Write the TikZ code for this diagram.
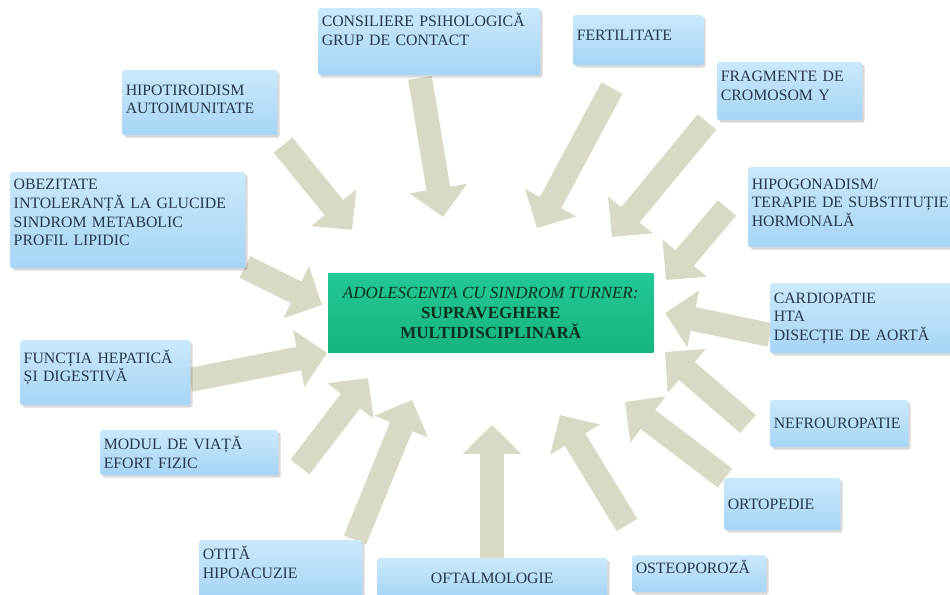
\documentclass[tikz,border=0pt]{standalone}
\usepackage{fontspec}
\setmainfont{Liberation Serif}
\usepackage{tikz}
\usetikzlibrary{arrows.meta,shadows}
\pgfdeclarelayer{bg}
\pgfsetlayers{bg,main}
\definecolor{boxtop}{RGB}{202,233,252}
\definecolor{boxbot}{RGB}{166,213,246}
\definecolor{boxtext}{RGB}{40,56,70}
\definecolor{turnertop}{RGB}{34,200,150}
\definecolor{turnerbot}{RGB}{22,180,128}
\definecolor{turnertext}{RGB}{10,48,30}
\definecolor{khaki}{RGB}{217,217,197}

\begin{document}
\begin{tikzpicture}[x = 0.03cm, y = -0.03cm,
  topic/.style = {anchor = north west, align = left, inner xsep = 3pt, inner ysep = 0pt,
    rounded corners = 1.5pt, top color = boxtop, bottom color = boxbot, text = boxtext,
    font = \fontsize{13.5}{16}\selectfont,
    drop shadow = {shadow xshift = 2pt, shadow yshift = -2pt, opacity = .3}},
  push/.style = {line width = 0.72cm, khaki, -{Triangle[length = 0pt 1.2, width = 0pt 2.35]}}]
\useasboundingbox (0,0) rectangle (950,595);

% centre
\node[anchor = north west, minimum width = 9.75cm, minimum height = 2.37cm, align = center,
  top color = turnertop, bottom color = turnerbot, text = turnertext,
  font = \fontsize{14.5}{17}\selectfont] (turner) at (328,273)
  {\textit{ADOLESCENTA CU SINDROM TURNER:}\\\textbf{SUPRAVEGHERE}\\\textbf{MULTIDISCIPLINARĂ}};

% boxes round it
\node[topic, text width = 6.45cm, minimum height = 2.01cm, text depth = 37pt] (cons) at (318,8) {CONSILIERE PSIHOLOGICĂ\\GRUP DE CONTACT};
\node[topic, text width = 3.69cm, minimum height = 1.5cm, text depth = 8pt] (fert) at (573,15) {FERTILITATE};
\node[topic, text width = 4.14cm, minimum height = 1.74cm, text depth = 25pt] (frag) at (717,62) {FRAGMENTE DE\\CROMOSOM Y};
\node[topic, text width = 4.44cm, minimum height = 1.95cm, text depth = 22pt] (hipot) at (122,70) {HIPOTIROIDISM\\AUTOIMUNITATE};
\node[topic, text width = 6.84cm, minimum height = 2.88cm, text depth = 61pt] (obez) at (10,172) {OBEZITATE\\INTOLERANȚĂ LA GLUCIDE\\SINDROM METABOLIC\\PROFIL LIPIDIC};
\node[topic, text width = 6.09cm, minimum height = 2.4cm, text depth = 40pt] (hipog) at (748,167) {HIPOGONADISM/\\TERAPIE DE SUBSTITUȚIE\\HORMONALĂ};
\node[topic, text width = 5.49cm, minimum height = 2.1cm] (cardio) at (770,283) {CARDIOPATIE\\HTA\\DISECȚIE DE AORTĂ};
\node[topic, text width = 4.89cm, minimum height = 1.95cm, text depth = 28pt] (func) at (20,340) {FUNCȚIA HEPATICĂ\\ȘI DIGESTIVĂ};
\node[topic, text width = 5.13cm, minimum height = 1.35cm] (modul) at (100,430) {MODUL DE VIAȚĂ\\EFORT FIZIC};
\node[topic, text width = 3.93cm, minimum height = 1.41cm] (nefro) at (770,400) {NEFROUROPATIE};
\node[topic, text width = 3.27cm, minimum height = 1.56cm] (orto) at (724,478) {ORTOPEDIE};
\node[topic, text width = 4.68cm, minimum height = 1.74cm, text depth = 28pt] (otita) at (199,540) {OTITĂ\\HIPOACUZIE};
\node[topic, text width = 6.69cm, minimum height = 1.2cm, align = center] (oftal) at (377,558) {OFTALMOLOGIE};
\node[topic, text width = 3.81cm, minimum height = 1.11cm, text depth = 12pt] (osteo) at (632,555) {OSTEOPOROZĂ};

% arrow ends
\coordinate (consT) at (420,78);   \coordinate (consH) at (443,217);
\coordinate (fertT) at (612,88);   \coordinate (fertH) at (537,228);
\coordinate (fragT) at (707,122);  \coordinate (fragH) at (612,237);
\coordinate (hipotT) at (283,145); \coordinate (hipotH) at (352,230);
\coordinate (obezT) at (245,267);  \coordinate (obezH) at (322,305);
\coordinate (funcT) at (190,380);  \coordinate (funcH) at (327,353);
\coordinate (modulT) at (300,467); \coordinate (modulH) at (368,378);
\coordinate (otitaT) at (355,540); \coordinate (otitaH) at (412,400);
\coordinate (oftalT) at (492,558); \coordinate (oftalH) at (492,425);
\coordinate (osteoT) at (627,525); \coordinate (osteoH) at (560,415);
\coordinate (ortoT) at (725,478);  \coordinate (ortoH) at (625,402);
\coordinate (nefroT) at (748,424); \coordinate (nefroH) at (665,352);
\coordinate (cardioT) at (770,335); \coordinate (cardioH) at (665,313);
\coordinate (hipogT) at (727,208); \coordinate (hipogH) at (666,280);

\begin{pgfonlayer}{bg}
\draw[push] (consT) -- (consH);
\draw[push] (fertT) -- (fertH);
\draw[push] (fragT) -- (fragH);
\draw[push] (hipotT) -- (hipotH);
\draw[push] (obezT) -- (obezH);
\draw[push] (funcT) -- (funcH);
\draw[push] (modulT) -- (modulH);
\draw[push] (otitaT) -- (otitaH);
\draw[push] (oftalT) -- (oftalH);
\draw[push] (osteoT) -- (osteoH);
\draw[push] (ortoT) -- (ortoH);
\draw[push] (nefroT) -- (nefroH);
\draw[push] (cardioT) -- (cardioH);
\draw[push] (hipogT) -- (hipogH);
\end{pgfonlayer}
\end{tikzpicture}
\end{document}
